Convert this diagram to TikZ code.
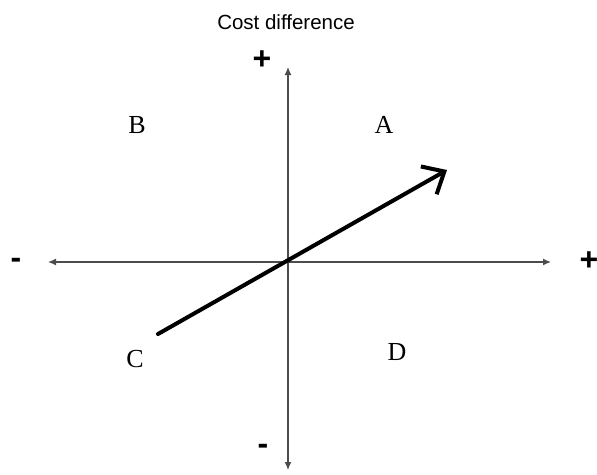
\documentclass[tikz,border=0pt]{standalone}
\usepackage{fontspec}
\setmainfont{Liberation Serif}
\setsansfont{Liberation Sans}
\usetikzlibrary{arrows.meta}

\begin{document}
\begin{tikzpicture}[x=1pt,y=-1pt,
  axis/.style={{Latex[length=8pt,width=7pt]}-{Latex[length=8pt,width=7pt]},line width=1.3pt,black!70},
  trend/.style={-{Straight Barb[length=18pt,width=32pt]},line width=4pt,line cap=round},
  quad/.style={font=\fontsize{26}{28}\selectfont,inner sep=0pt},
  sign/.style={font=\sffamily\bfseries\fontsize{32}{34}\selectfont,inner sep=0pt}]
  \useasboundingbox (0,0) rectangle (597,474);
  % axes
  \coordinate (west)  at (48,262);
  \coordinate (east)  at (551,262);
  \coordinate (north) at (288,67);
  \coordinate (south) at (288,470);
  \coordinate (start) at (158,334);
  \coordinate (tip)   at (447,170);
  \node[font=\sffamily\fontsize{20.5}{23}\selectfont] (title) at (286,22) {Cost difference};
  \node[sign] (up)    at (262,60)  {+};
  \node[sign] (right) at (589,261) {+};
  \node[sign] (left)  at (16,263)  {-};
  \node[sign] (down)  at (263,449) {-};
  \node[quad] (b) at (137,125) {B};
  \node[quad] (a) at (384,125) {A};
  \node[quad] (c) at (135,359) {C};
  \node[quad] (d) at (397,352) {D};
  \draw[axis] (west) -- (east);
  \draw[axis] (south) -- (north);
  \draw[trend] (start) -- (tip);
\end{tikzpicture}
\end{document}
